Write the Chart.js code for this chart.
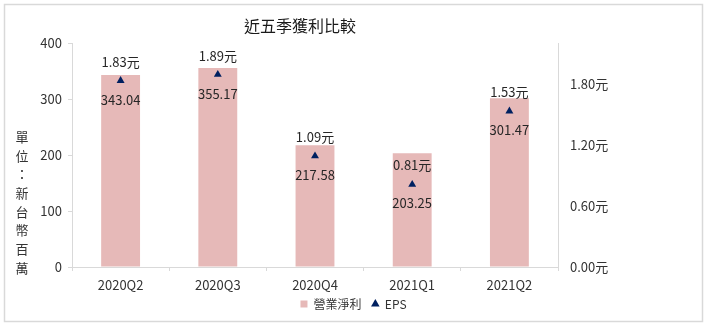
<!DOCTYPE html>
<html>
<head>
<meta charset="utf-8">
<script src="https://cdn.jsdelivr.net/npm/chart.js@4/dist/chart.umd.min.js"></script>
<style>
  body { margin: 0; background: #fff; }
  canvas { display: block; }
</style>
</head>
<body>
<canvas id="chart" width="707" height="325"></canvas>
<script>
// data
var quarters = ['2020Q2', '2020Q3', '2020Q4', '2021Q1', '2021Q2'];
var netIncome = [343.04, 355.17, 217.58, 203.25, 301.47];
var eps = [1.83, 1.89, 1.09, 0.81, 1.53];
var epsTicks = [0, 0.6, 1.2, 1.8];
var unitLabel = ['單', '位', '：', '新', '台', '幣', '百', '萬'];
var titleText = '近五季獲利比較';

var FONT = "'Noto Sans CJK TC', 'Noto Sans', sans-serif";
var TEXT = '#333333';
var AXIS = '#d9d9d9';

// frame, title, vertical unit label, and value labels
var decorations = {
    id: 'decorations',
    beforeDraw: function(chart) {
        var ctx = chart.ctx;
        ctx.save();
        ctx.strokeStyle = AXIS;
        ctx.lineWidth = 1.5;
        ctx.strokeRect(4.5, 4.5, 698, 317);

        ctx.fillStyle = '#1a1a1a';
        ctx.font = '16px ' + FONT;
        ctx.textAlign = 'center';
        ctx.textBaseline = 'middle';
        ctx.fillText(titleText, 300, 26);

        ctx.fillStyle = TEXT;
        ctx.font = '13px ' + FONT;
        unitLabel.forEach(function(ch, i) {
            ctx.fillText(ch, 22, 137 + i * 18.7);
        });
        ctx.restore();
    },
    afterDatasetsDraw: function(chart) {
        var ctx = chart.ctx;
        var points = chart.getDatasetMeta(0).data;
        ctx.save();
        ctx.fillStyle = '#262626';
        ctx.font = '13px ' + FONT;
        ctx.textAlign = 'center';
        ctx.textBaseline = 'middle';
        points.forEach(function(pt, i) {
            ctx.fillText(eps[i].toFixed(2) + '元', pt.x, pt.y - 19);
            ctx.fillText(netIncome[i].toFixed(2), pt.x, pt.y + 19);
        });
        ctx.restore();
    }
};

var ctx = document.getElementById('chart').getContext('2d');
var chart = new Chart(ctx, {
    type: 'bar',
    data: {
        labels: quarters,
        datasets: [{
            type: 'line',
            label: 'EPS',
            data: eps,
            yAxisID: 'y1',
            showLine: false,
            pointStyle: 'triangle',
            pointRadius: 4.6,
            pointHoverRadius: 4.6,
            backgroundColor: '#002060',
            borderColor: '#002060',
            borderWidth: 0
        }, {
            label: '營業淨利',
            data: netIncome,
            yAxisID: 'y',
            pointStyle: 'rect',
            backgroundColor: '#e6b9b8',
            borderWidth: 0,
            categoryPercentage: 1,
            barPercentage: 0.4
        }]
    },
    options: {
        responsive: false,
        animation: false,
        layout: { padding: { top: 43, left: 0, right: 0, bottom: 5 } },
        plugins: {
            tooltip: { enabled: false },
            legend: {
                position: 'bottom',
                reverse: true,
                labels: {
                    usePointStyle: true,
                    boxWidth: 7,
                    boxHeight: 7,
                    padding: 5,
                    color: TEXT,
                    font: { family: FONT, size: 12 },
                    generateLabels: function(chart) {
                        var items = Chart.defaults.plugins.legend.labels.generateLabels(chart);
                        items.forEach(function(it) {
                            if (it.datasetIndex === 1) { it.text = it.text + '  '; }
                        });
                        return items;
                    }
                }
            }
        },
        scales: {
            x: {
                grid: { drawOnChartArea: false, tickLength: 4, color: AXIS },
                border: { color: AXIS },
                ticks: { color: TEXT, padding: 6, font: { family: FONT, size: 13 } },
                afterFit: function(scale) { scale.height = 26; }
            },
            y: {
                position: 'left',
                min: 0,
                max: 400,
                grid: { drawOnChartArea: false, tickLength: 4, color: AXIS },
                border: { color: AXIS },
                ticks: { stepSize: 100, color: TEXT, padding: 6, font: { family: FONT, size: 13 } },
                afterFit: function(scale) { scale.width = 72; }
            },
            y1: {
                position: 'right',
                min: 0,
                max: 2.2,
                grid: { drawOnChartArea: false, drawTicks: false },
                border: { color: AXIS },
                ticks: {
                    color: TEXT,
                    padding: 12,
                    font: { family: FONT, size: 13 },
                    callback: function(v) { return v.toFixed(2) + '元'; }
                },
                afterBuildTicks: function(scale) {
                    scale.ticks = epsTicks.map(function(v) { return { value: v }; });
                },
                afterFit: function(scale) { scale.width = 149; }
            }
        }
    },
    plugins: [decorations]
});
</script>
</body>
</html>
